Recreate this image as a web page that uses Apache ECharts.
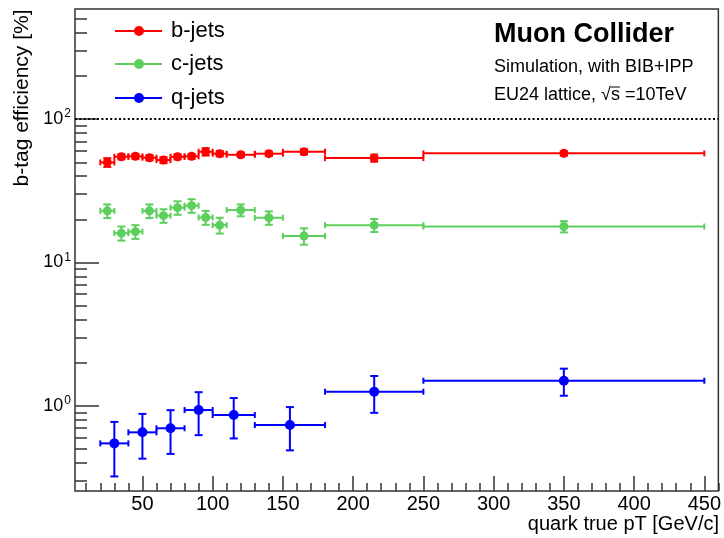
<!DOCTYPE html>
<html>
<head>
<meta charset="utf-8">
<script src="https://cdn.jsdelivr.net/npm/echarts@6/dist/echarts.min.js"></script>
<style>
html, body { margin: 0; padding: 0; background: #fff; }
#chart { width: 724px; height: 538px; }
</style>
</head>
<body>
<div id="chart"></div>
<script>
// pT bins used for b-jets and c-jets [GeV/c]
var bcLo  = [20, 30, 40, 50, 60, 70, 80, 90, 100, 110, 130, 150, 180, 250];
var bcHi  = [30, 40, 50, 60, 70, 80, 90, 100, 110, 130, 150, 180, 250, 450];
var bcMid = [25, 35, 45, 55, 65, 75, 85, 95, 105, 120, 140, 165, 215, 350];

// b-tag efficiency [%]
var bEff = [49.9, 54.6, 55.0, 53.8, 51.8, 54.6, 55.0, 59.2, 57.4, 56.4, 57.4, 59.2, 53.5, 57.7];
var bErr = [3.5, 2.2, 2.2, 2.2, 2.5, 2.2, 2.2, 3.5, 2.5, 2.0, 2.0, 2.5, 3.0, 2.0];
var cEff = [22.9, 16.0, 16.4, 22.9, 21.2, 24.1, 24.9, 20.6, 18.2, 23.2, 20.5, 15.3, 18.2, 17.8];
var cErr = [2.5, 1.8, 1.8, 2.5, 2.3, 2.6, 2.7, 2.3, 2.3, 2.2, 2.2, 2.0, 1.9, 1.6];

// q-jets have coarser bins
var qLo  = [20, 40, 60, 80, 100, 130, 180, 250];
var qHi  = [40, 60, 80, 100, 130, 180, 250, 450];
var qMid = [30, 50, 70, 90, 115, 155, 215, 350];
var qEff = [0.546, 0.652, 0.696, 0.933, 0.861, 0.733, 1.252, 1.494];
var qErr = [0.225, 0.225, 0.235, 0.31, 0.27, 0.245, 0.36, 0.32];

// axes
var xMin = 2, xMax = 460;
var yMin = 0.254, yMax = 587;
var xMajor = [50, 100, 150, 200, 250, 300, 350, 400, 450];
var xMinor = [10, 20, 30, 40, 60, 70, 80, 90, 110, 120, 130, 140, 160, 170, 180, 190,
              210, 220, 230, 240, 260, 270, 280, 290, 310, 320, 330, 340, 360, 370, 380, 390,
              410, 420, 430, 440, 460];
var yMajor = [1, 10, 100];
var yMinor = [0.3, 0.4, 0.5, 0.6, 0.7, 0.8, 0.9, 2, 3, 4, 5, 6, 7, 8, 9,
              20, 30, 40, 50, 60, 70, 80, 90, 200, 300, 400, 500];
var refLevel = 100;

var FONT = "'Liberation Sans', Arial, Helvetica, sans-serif";
var RED = '#ff0000', GREEN = '#5ccf5c', BLUE = '#0000ff';

function rows(lo, hi, mid, val, err) {
    return mid.map(function (m, i) {
        return [m, lo[i], hi[i], val[i], err[i]];
    });
}

// ROOT-like point with x/y error bars and end caps
function errBars(color, r) {
    return function (params, api) {
        var xc = api.value(0), xl = api.value(1), xh = api.value(2);
        var y = api.value(3), e = api.value(4);
        var p = api.coord([xc, y]);
        var pl = api.coord([xl, y]);
        var ph = api.coord([xh, y]);
        var pu = api.coord([xc, y + e]);
        var pd = api.coord([xc, y - e]);
        var st = { stroke: color, lineWidth: 2 };
        var cap = 4;
        var line = function (x1, y1, x2, y2) {
            return { type: 'line', shape: { x1: x1, y1: y1, x2: x2, y2: y2 }, style: st };
        };
        return {
            type: 'group',
            children: [
                line(pl[0], p[1], ph[0], p[1]),
                line(pl[0], p[1] - 3, pl[0], p[1] + 3),
                line(ph[0], p[1] - 3, ph[0], p[1] + 3),
                line(p[0], pu[1], p[0], pd[1]),
                line(p[0] - cap, pu[1], p[0] + cap, pu[1]),
                line(p[0] - cap, pd[1], p[0] + cap, pd[1]),
                { type: 'circle', shape: { cx: p[0], cy: p[1], r: r }, style: { fill: color } }
            ]
        };
    };
}

// sqrt(s) label pieces, overline placed with canvas text metrics
var infoX = 494, infoY = 95, infoFont = '18px ' + FONT;
var ctx = document.createElement('canvas').getContext('2d');
ctx.font = infoFont;
var sStart = infoX + ctx.measureText('EU24 lattice, \u221A').width;
var sEnd = sStart + ctx.measureText('s').width;

function legendItem(y, color, text) {
    return [
        { type: 'line', shape: { x1: 115, y1: y, x2: 162, y2: y }, style: { stroke: color, lineWidth: 2 } },
        { type: 'circle', shape: { cx: 139, cy: y, r: 5 }, style: { fill: color } },
        { type: 'text', style: { x: 171, y: y, text: text, font: '22px ' + FONT, fill: '#000',
            textAlign: 'left', textVerticalAlign: 'middle' } }
    ];
}

var chart = echarts.init(document.getElementById('chart'));

var option = {
    animation: false,
    grid: {
        left: 75, right: 5, top: 9, bottom: 47,
        show: true, borderColor: '#333', borderWidth: 1.5
    },
    xAxis: [{
        type: 'value', min: xMin, max: xMax, position: 'bottom',
        axisLine: { show: false },
        splitLine: { show: false },
        axisTick: { inside: true, length: 15, customValues: xMajor, lineStyle: { color: '#333', width: 1.5 } },
        axisLabel: { customValues: xMajor, margin: 3, color: '#000', fontSize: 20, fontFamily: FONT }
    }, {
        type: 'value', min: xMin, max: xMax, position: 'bottom',
        axisLine: { show: false },
        splitLine: { show: false },
        axisTick: { inside: true, length: 8, customValues: xMinor, lineStyle: { color: '#333', width: 1.5 } },
        axisLabel: { show: false }
    }],
    yAxis: [{
        type: 'log', logBase: 10, min: yMin, max: yMax, position: 'left',
        axisLine: { show: false },
        splitLine: { show: false },
        axisTick: { inside: true, length: 24, customValues: yMajor, lineStyle: { color: '#333', width: 1.5 } },
        axisLabel: {
            customValues: yMajor, margin: 4, color: '#000',
            formatter: function (v) {
                return '{b|10}{s|' + Math.round(Math.log10(v)) + '}';
            },
            rich: {
                b: { fontSize: 18, fontFamily: FONT, color: '#000', lineHeight: 22 },
                s: { fontSize: 12, fontFamily: FONT, color: '#000', verticalAlign: 'top', lineHeight: 12, padding: [0, 0, 0, 1] }
            }
        }
    }, {
        type: 'log', logBase: 10, min: yMin, max: yMax, position: 'left',
        axisLine: { show: false },
        splitLine: { show: false },
        axisTick: { inside: true, length: 12, customValues: yMinor, lineStyle: { color: '#333', width: 1.5 } },
        axisLabel: { show: false }
    }],
    series: [{
        name: 'b-jets', type: 'custom',
        renderItem: errBars(RED, 4.5),
        encode: { x: [0, 1, 2], y: 3 },
        data: rows(bcLo, bcHi, bcMid, bEff, bErr),
        z: 3,
        markLine: {
            silent: true, symbol: ['none', 'none'],
            label: { show: false },
            lineStyle: { color: '#000', type: [2, 2.4], width: 2 },
            data: [{ yAxis: refLevel }]
        }
    }, {
        name: 'c-jets', type: 'custom',
        renderItem: errBars(GREEN, 4.5),
        encode: { x: [0, 1, 2], y: 3 },
        data: rows(bcLo, bcHi, bcMid, cEff, cErr)
    }, {
        name: 'q-jets', type: 'custom',
        renderItem: errBars(BLUE, 5),
        encode: { x: [0, 1, 2], y: 3 },
        data: rows(qLo, qHi, qMid, qEff, qErr)
    }],
    graphic: [].concat(
        legendItem(31, RED, 'b-jets'),
        legendItem(64, GREEN, 'c-jets'),
        legendItem(98, BLUE, 'q-jets'),
        [
            { type: 'text', style: { x: 494, y: 35, text: 'Muon Collider', font: 'bold 27px ' + FONT,
                fill: '#000', textAlign: 'left', textVerticalAlign: 'middle' } },
            { type: 'text', style: { x: infoX, y: 67, text: 'Simulation, with BIB+IPP', font: infoFont,
                fill: '#000', textAlign: 'left', textVerticalAlign: 'middle' } },
            { type: 'text', style: { x: infoX, y: infoY, text: 'EU24 lattice, \u221As =10TeV', font: infoFont,
                fill: '#000', textAlign: 'left', textVerticalAlign: 'middle' } },
            { type: 'line', shape: { x1: sStart, y1: infoY - 8, x2: sEnd, y2: infoY - 8 },
                style: { stroke: '#000', lineWidth: 1 } },
            { type: 'text', style: { x: 719, y: 524, text: 'quark true pT [GeV/c]', font: '20px ' + FONT,
                fill: '#000', textAlign: 'right', textVerticalAlign: 'middle' } },
            { type: 'text', x: 22, y: 98, rotation: Math.PI / 2,
                style: { x: 0, y: 0, text: 'b-tag efficiency [%]', font: '21px ' + FONT,
                fill: '#000', textAlign: 'center', textVerticalAlign: 'middle' } }
        ]
    )
};

chart.setOption(option);
</script>
</body>
</html>
